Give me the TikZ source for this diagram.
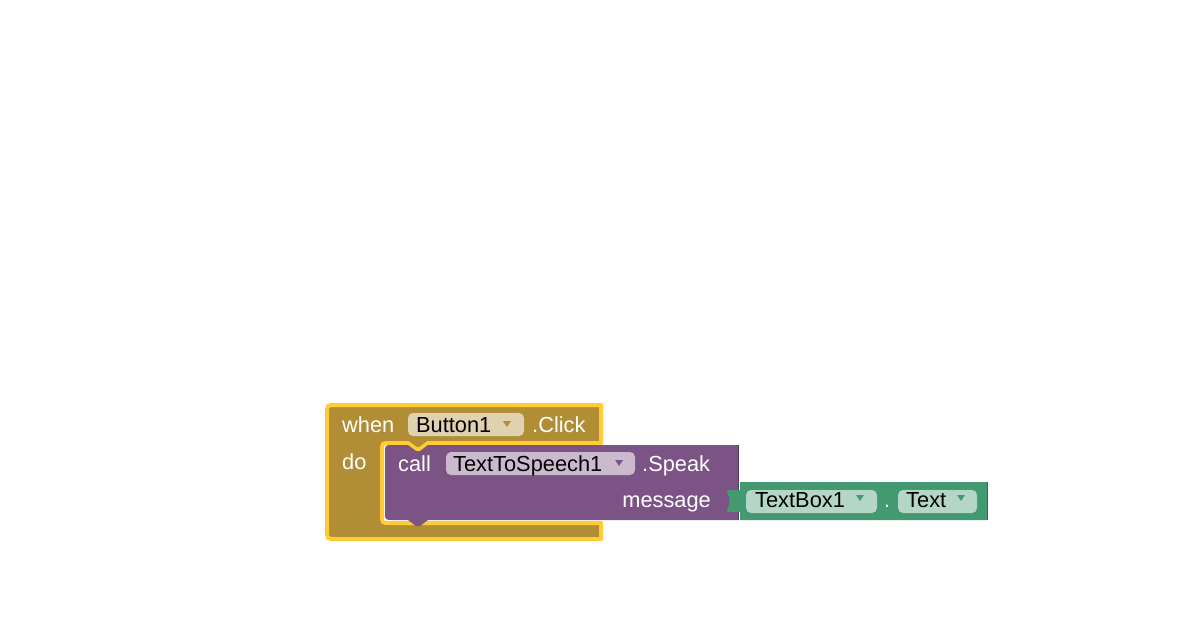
\documentclass[tikz,border=0pt]{standalone}
\usepackage{fontspec}
\setmainfont{Liberation Sans}
\definecolor{gold}{RGB}{177,142,53}
\definecolor{hl}{RGB}{255,204,51}
\definecolor{purp}{RGB}{124,83,133}
\definecolor{grn}{RGB}{67,153,112}
\newcommand\ddarrow[3]{\fill[#1] (#2-4,#3-3) -- (#2+4,#3-3) -- (#2,#3+3) -- cycle;}
\begin{document}
\begin{tikzpicture}[x=1pt,y=-1pt,
  lbl/.style={font=\fontsize{21.8}{22}\selectfont, text=white, inner sep=0pt, anchor=base west},
  fld/.style={font=\fontsize{21.8}{22}\selectfont, text=black, inner sep=0pt, anchor=base west},
  fieldbox/.style={rounded corners=5pt}]
\useasboundingbox[fill=white] (0,0) rectangle (1195,638);
% gold event block
\path[fill=gold, draw=hl, line width=4pt, line join=round]
  (327,414) .. controls (327,405) .. (336,405) -- (601,405) -- (601,443) -- (428,443)
  -- (420,449) -- (416,449) -- (408,443) -- (390,443) .. controls (382,443) .. (382,451)
  -- (382,515) .. controls (382,523) .. (390,523) -- (601,523) -- (601,539) -- (336,539)
  .. controls (327,539) .. (327,530) -- cycle;
% purple call block
\path[fill=purp]
  (385,453) .. controls (385,445) .. (393,445) -- (408,445) -- (416,451) -- (420,451)
  -- (428,445) -- (738,445) -- (738,520) -- (428,520) -- (420,526) -- (416,526)
  -- (408,520) -- (393,520) .. controls (385,520) .. (385,512) -- cycle;
\draw[purp!70!black, line width=1pt] (738,445) -- (738,520);
% green getter block
\path[fill=grn]
  (740,482) -- (987,482) -- (987,520) -- (740,520) -- (740,512) -- (731,512)
  .. controls (727,512) .. (727,509)
  .. controls (730.5,505) and (730.5,497) .. (727,493)
  .. controls (727,490) .. (731,490) -- (740,490) -- cycle;
\draw[grn!70!black, line width=1pt] (987,482) -- (987,520);
% fields
\fill[gold!40!white, fieldbox] (408,413) rectangle (524,436);
\fill[purp!40!white, fieldbox] (446,452) rectangle (635,475);
\fill[grn!40!white, fieldbox] (746,490) rectangle (877,513);
\fill[grn!40!white, fieldbox] (898,490) rectangle (977,513);
\ddarrow{gold}{507}{424}
\ddarrow{purp}{619}{463}
\ddarrow{grn}{860}{498}
\ddarrow{grn}{961}{498}
% texts
\node[lbl] (when) at (342,432) {when};
\node[fld] (b1) at (416,432) {Button1};
\node[lbl] (click) at (532,432) {.Click};
\node[lbl] (do) at (342,469) {do};
\node[lbl] (call) at (398,471) {call};
\node[fld] (tts) at (453,471) {TextToSpeech1};
\node[lbl] (speak) at (642,471) {.Speak};
\node[lbl, anchor=base east] (msg) at (711,507) {message};
\node[fld] (tb) at (755,507) {TextBox1};
\node[lbl] (dot) at (884,507) {.};
\node[fld] (txt) at (906,507) {Text};
\end{tikzpicture}
\end{document}
